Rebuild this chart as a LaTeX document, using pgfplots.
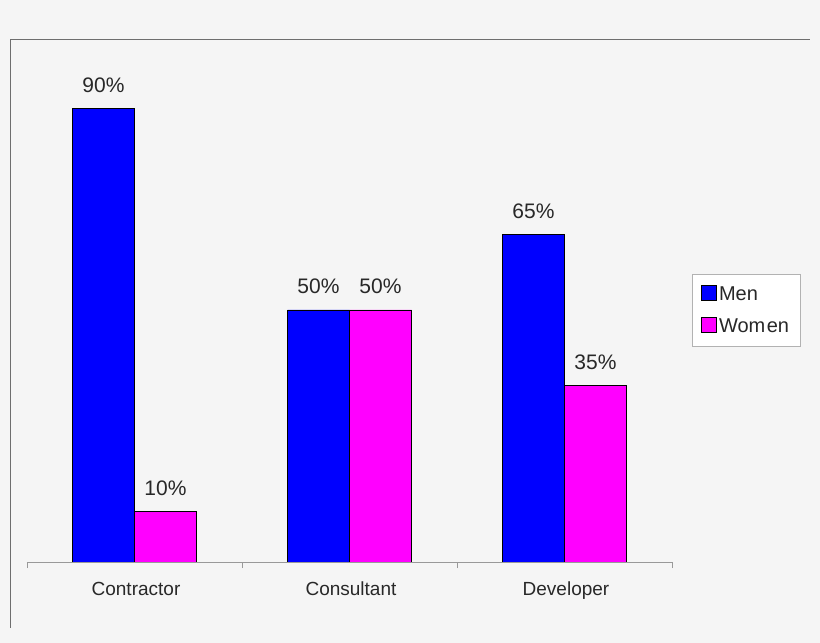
\documentclass[border=0pt]{standalone}
\usepackage{pgfplots}
\pgfplotsset{compat=1.18}
\usepackage{fontspec}
\setmainfont{Liberation Sans}
\definecolor{bg}{RGB}{245,245,245}
\definecolor{txt}{RGB}{40,40,40}
\definecolor{menc}{RGB}{0,0,255}
\definecolor{womenc}{RGB}{255,0,255}
\definecolor{framec}{RGB}{110,110,110}
\begin{document}
\begin{tikzpicture}[x=1pt,y=1pt]
\fill[bg] (0,0) rectangle (820,643);
\draw[framec, line width=1pt] (10,15) -- (10,603) -- (810,603);
\begin{axis}[
  at={(27pt,81pt)}, anchor=south west,
  scale only axis, width=645pt, height=504pt,
  ymin=0, ymax=100, xmin=-0.5, xmax=2.5,
  axis x line*=bottom, axis y line=none,
  x axis line style={draw=gray!80, line width=0.8pt, -},
  ybar=0pt, bar width=62pt,
  /pgf/number format/assume math mode=true,
  xtick={0,1,2}, xticklabels={Contractor,Consultant,Developer},
  major tick length=0pt,
  minor xtick={-0.5,0.5,1.5,2.5},
  minor tick length=6pt, tick align=outside,
  minor tick style={draw=gray!80, line width=0.8pt},
  xticklabel style={font=\fontsize{19}{22}\selectfont, text=txt, inner sep=0pt, anchor=base, yshift=-34pt, xshift=1.5pt},
  nodes near coords={\pgfmathprintnumber{\pgfplotspointmeta}\%},
  nodes near coords style={font=\fontsize{21}{24}\selectfont, text=txt, anchor=base, inner sep=0pt, yshift=16pt},
  legend style={at={(1.031,0.571)}, anchor=north west, draw=gray!60, fill=white,
    font=\fontsize{20}{24}\selectfont, text=txt, inner xsep=9pt, inner ysep=10pt,
    row sep=13pt, /tikz/every even column/.append style={column sep=3pt}},
  legend image code/.code={\draw[#1,draw=black,line width=0.8pt] (0pt,-6pt) rectangle (15pt,9pt);},
  legend cell align=left,
]
\addplot[fill=menc, draw=black, line width=0.8pt] coordinates {(0,90) (1,50) (2,65)};
\addplot[fill=womenc, draw=black, line width=0.8pt] coordinates {(0,10) (1,50) (2,35)};
\legend{Men,{Wom\kern1.5pt en}}
\end{axis}
\end{tikzpicture}
\end{document}
